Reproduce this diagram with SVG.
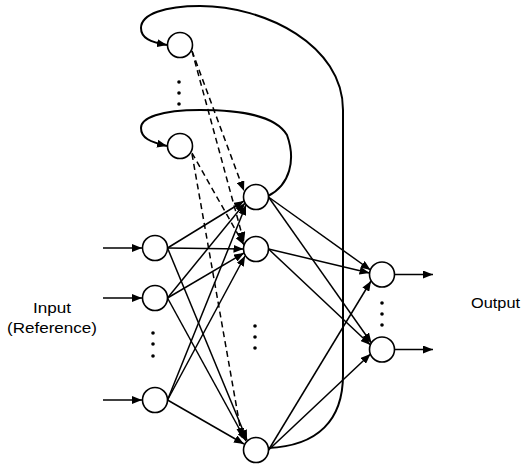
<svg xmlns="http://www.w3.org/2000/svg" width="521" height="464" viewBox="0 0 521 464">
<defs>
<marker id="ah" markerUnits="userSpaceOnUse" markerWidth="11" markerHeight="8" refX="10" refY="4" orient="auto">
<path d="M0,0 L10,4 L0,8 z" fill="#000"/>
</marker>
<style>
.node{fill:#fff;stroke:#000;stroke-width:1.6}
.e{stroke:#000;stroke-width:1.5;fill:none;marker-end:url(#ah)}
.d{stroke:#000;stroke-width:1.5;fill:none;stroke-dasharray:6 4;marker-end:url(#ah)}
.loop{stroke:#000;stroke-width:2;fill:none;marker-end:url(#ah)}
.dot{fill:#000}
.t{font-family:"Liberation Sans",Arial,sans-serif;font-size:14.5px;fill:#000}
</style>
</defs>
<rect width="521" height="464" fill="#fff"/>
<g id="connectors">
<!-- feedback loops -->
<path class="loop" d="M268,448 C318,446 343,420 343,375 L343,110 C343,45 265,6 200,6 C165,6 141,14 141,28 C141,38 150,42 167,45"/>
<path class="loop" d="M268,196 C290,185 296,160 287,135 C275,115 240,110 200,110 C160,110 141,118 141,128 C141,138 150,142 167,146"/>
<!-- context to hidden (dashed) -->
<line class="d" x1="192" y1="51" x2="244" y2="191"/>
<line class="d" x1="192" y1="51" x2="244" y2="242"/>
<line class="d" x1="192" y1="153" x2="244" y2="245"/>
<line class="d" x1="192" y1="154" x2="242" y2="438"/>
<!-- external inputs -->
<line class="e" x1="103" y1="248" x2="142" y2="248"/>
<line class="e" x1="103" y1="298" x2="142" y2="298"/>
<line class="e" x1="103" y1="400" x2="142" y2="400"/>
<!-- input to hidden -->
<line class="e" x1="167.5" y1="248" x2="244" y2="201"/>
<line class="e" x1="167.5" y1="248" x2="243.5" y2="249"/>
<line class="e" x1="167.5" y1="248" x2="247" y2="440"/>
<line class="e" x1="167.5" y1="298" x2="245" y2="203"/>
<line class="e" x1="167.5" y1="298" x2="244" y2="253"/>
<line class="e" x1="167.5" y1="298" x2="246" y2="441"/>
<line class="e" x1="167.5" y1="400" x2="246" y2="205"/>
<line class="e" x1="167.5" y1="400" x2="245" y2="256"/>
<line class="e" x1="167.5" y1="400" x2="244" y2="444"/>
<!-- hidden to output -->
<line class="e" x1="268.5" y1="197" x2="370.5" y2="270"/>
<line class="e" x1="268.5" y1="197" x2="371.5" y2="343"/>
<line class="e" x1="268.5" y1="249" x2="369.5" y2="273"/>
<line class="e" x1="268.5" y1="249" x2="370.5" y2="345"/>
<line class="e" x1="268.5" y1="450" x2="371" y2="281"/>
<line class="e" x1="268.5" y1="450" x2="370.5" y2="354"/>
<!-- outputs -->
<line class="e" x1="394.5" y1="274.5" x2="433" y2="274.5"/>
<line class="e" x1="394.5" y1="349.5" x2="433" y2="349.5"/>
</g>
<g id="context1"><circle class="node" cx="180" cy="45" r="12.5"/></g>
<g id="context2"><circle class="node" cx="180" cy="146" r="12.5"/></g>
<g id="context-dots"><circle class="dot" cx="179" cy="82" r="1.8"/><circle class="dot" cx="179" cy="93" r="1.8"/><circle class="dot" cx="179" cy="104" r="1.8"/></g>
<g id="input1"><circle class="node" cx="155" cy="248" r="12.5"/></g>
<g id="input2"><circle class="node" cx="155" cy="298" r="12.5"/></g>
<g id="input3"><circle class="node" cx="155" cy="400" r="12.5"/></g>
<g id="input-dots"><circle class="dot" cx="153" cy="333" r="1.8"/><circle class="dot" cx="153" cy="344" r="1.8"/><circle class="dot" cx="153" cy="356" r="1.8"/></g>
<g id="hidden1"><circle class="node" cx="256" cy="197" r="12.5"/></g>
<g id="hidden2"><circle class="node" cx="256" cy="249" r="12.5"/></g>
<g id="hidden3"><circle class="node" cx="256" cy="450" r="12.5"/></g>
<g id="hidden-dots"><circle class="dot" cx="255" cy="326" r="1.8"/><circle class="dot" cx="255" cy="337" r="1.8"/><circle class="dot" cx="255" cy="348" r="1.8"/></g>
<g id="output1"><circle class="node" cx="382" cy="274.5" r="12.5"/></g>
<g id="output2"><circle class="node" cx="382" cy="349.5" r="12.5"/></g>
<g id="output-dots"><circle class="dot" cx="382" cy="303" r="1.8"/><circle class="dot" cx="382" cy="314" r="1.8"/><circle class="dot" cx="382" cy="325" r="1.8"/></g>
<g id="labels">
<text class="t" x="52" y="313" text-anchor="middle" textLength="38" lengthAdjust="spacingAndGlyphs">Input</text>
<text class="t" x="52" y="333" text-anchor="middle" textLength="90" lengthAdjust="spacingAndGlyphs">(Reference)</text>
<text class="t" x="471" y="308" textLength="49" lengthAdjust="spacingAndGlyphs">Output</text>
</g>
</svg>
